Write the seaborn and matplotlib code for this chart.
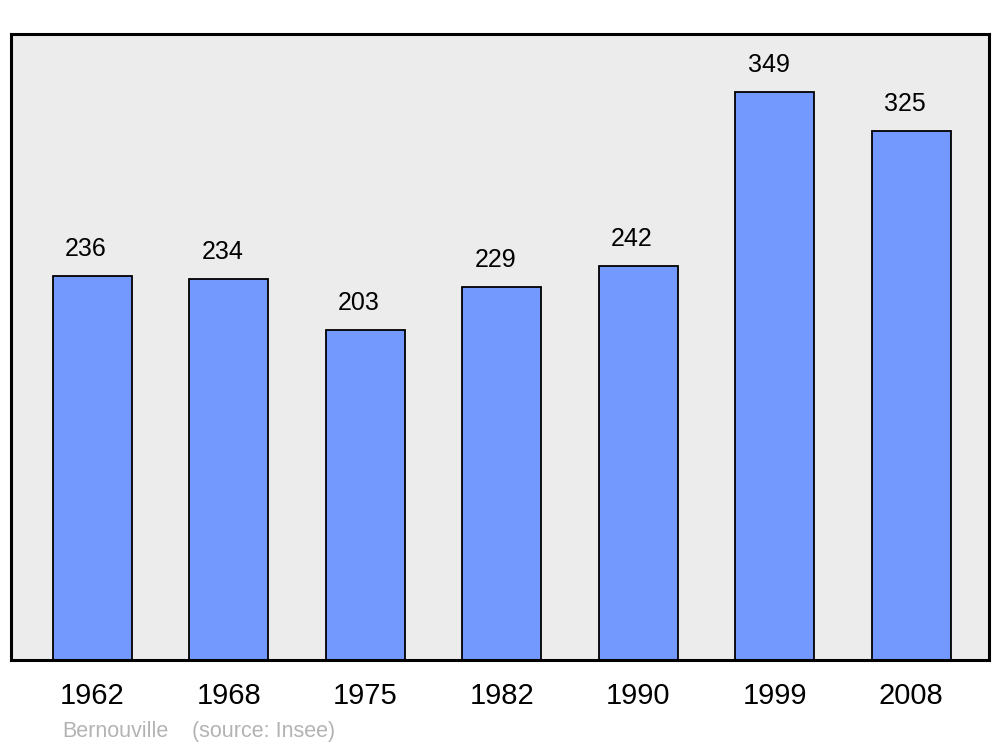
import matplotlib
matplotlib.use("Agg")
import matplotlib.pyplot as plt
import seaborn as sns
import pandas as pd

years = ["1962", "1968", "1975", "1982", "1990", "1999", "2008"]
population = [236, 234, 203, 229, 242, 349, 325]

df = pd.DataFrame({"year": years, "pop": population})

sns.set_style("white")
plt.rcParams["font.family"] = ["Liberation Sans", "DejaVu Sans"]

fig = plt.figure(figsize=(10, 7.47), dpi=100)
ax = fig.add_axes([0.011, 1 - 660 / 747, 0.978, 626 / 747])
ax.set_facecolor("#ececec")

sns.barplot(data=df, x="year", y="pop", color="#7399ff", saturation=1,
            width=0.58, edgecolor="black", linewidth=1.3, ax=ax)

for i, v in enumerate(population):
    ax.annotate(str(v), (i, v), xytext=(-4.5, 19.5), textcoords="offset points",
                ha="center", va="center", fontsize=18, color="black")

ax.set_xlim(-0.595, 6.57)
ax.set_ylim(0, 384.6)
ax.set_xlabel("")
ax.set_ylabel("")
ax.set_yticks([])
ax.tick_params(axis="x", length=0, pad=16, labelsize=21, labelcolor="black")
for s in ax.spines.values():
    s.set_visible(True)
    s.set_linewidth(2.2)
    s.set_color("black")

# footer
fig.text(0.062, 1 - 737 / 747, "Bernouville", fontsize=15.5, color="#b3b3b3", va="baseline")
fig.text(0.192, 1 - 737 / 747, "(source: Insee)", fontsize=15.5, color="#b3b3b3", va="baseline")

fig.savefig("out.png", dpi=100)
